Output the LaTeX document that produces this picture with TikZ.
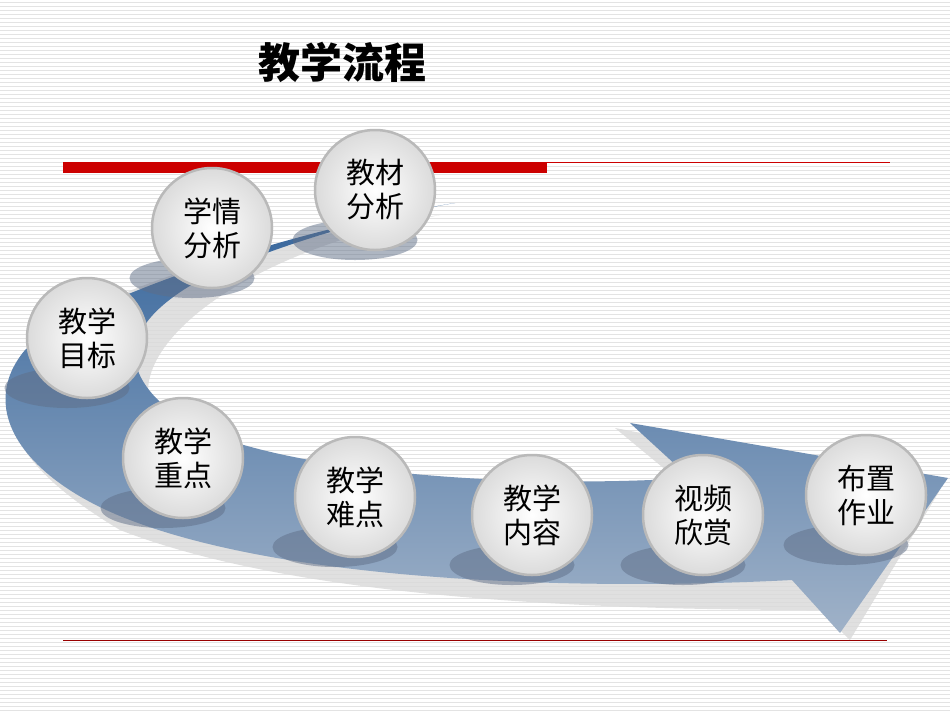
\documentclass[tikz,border=0pt]{standalone}
\usepackage{fontspec}
\newfontfamily\cjk{Noto Sans CJK SC}
\usetikzlibrary{shapes.geometric}
\definecolor{bandtop}{RGB}{52,100,155}
\definecolor{bandbot}{RGB}{160,178,200}
\definecolor{shcol}{RGB}{95,110,135}
\begin{document}
\begin{tikzpicture}[x=1pt,y=-1pt,
  bubble/.style={circle,minimum size=120pt,inner sep=0pt,draw=gray!55,line width=2.5pt,inner color=white,outer color=gray!28,font=\cjk\fontsize{29}{34}\selectfont,align=center},
  shad/.style={ellipse,fill=shcol,opacity=0.5,minimum width=125pt,minimum height=40pt}]
\useasboundingbox (0,0) rectangle (950,713);
\fill[white] (0,0) rectangle (950,713);
\foreach \y in {2,6,...,712} \draw[gray!22,line width=1pt] (0,\y) -- (950,\y);
% title
\node[font=\cjk\fontsize{42}{46}\selectfont] (title) at (342,62) {\textbf{教学流程}};
% red lines
\fill[red!80!black] (63,162) rectangle (547,173);
\draw[red!80!black,line width=0.6pt] (547,162) -- (890,162);
\draw[red!60!black,line width=0.6pt] (63,640) -- (887,640);
% light shadow copy of band
\fill[gray!30,opacity=0.8] (440,215) .. controls (250,240) and (60,300) .. (25,360)
  .. controls (-10,420) and (20,470) .. (120,530)
  .. controls (300,600) and (600,610) .. (820,610) -- (850,640) -- (940,490) -- (615,428) -- (690,490)
  .. controls (500,500) and (270,480) .. (170,430) .. controls (100,380) and (200,260) .. (440,215) -- cycle;
% main band
\shade[top color=bandtop, bottom color=bandbot]
  (455,203) .. controls (300,228) and (90,295) .. (25,350)
  .. controls (-25,410) and (25,480) .. (130,520)
  .. controls (300,585) and (600,590) .. (792,580) -- (840,633) -- (948,478) -- (630,423) -- (690,478)
  .. controls (500,490) and (280,470) .. (190,425)
  .. controls (120,380) and (110,330) .. (200,280)
  .. controls (300,235) and (400,212) .. (455,203) -- cycle;
% shadows
\foreach \x/\y in {375/190,212/228,87/338,183/458,355/497,532/515,703/515,866/495}
  \node[shad] at (\x-20,\y+50) {};
% bubbles
\node[bubble] (a) at (375,190) {教材\\分析};
\node[bubble] (b) at (212,228) {学情\\分析};
\node[bubble] (c) at (87,338) {教学\\目标};
\node[bubble] (d) at (183,458) {教学\\重点};
\node[bubble] (e) at (355,497) {教学\\难点};
\node[bubble] (f) at (532,515) {教学\\内容};
\node[bubble] (g) at (703,515) {视频\\欣赏};
\node[bubble] (h) at (866,495) {布置\\作业};
\end{tikzpicture}
\end{document}
